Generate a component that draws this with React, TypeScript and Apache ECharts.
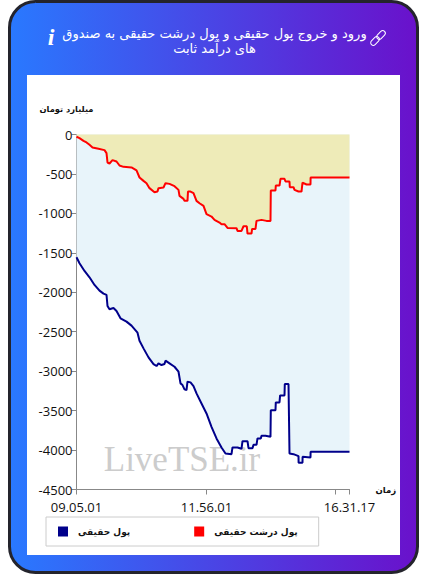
import React, { useEffect, useRef } from "react";
import * as echarts from "echarts";

const titleText = "ورود و خروج پول حقیقی و پول درشت حقیقی به صندوق\nهای درآمد ثابت";
const yAxisName = "میلیارد تومان";
const xAxisName = "زمان";
const realName = "پول حقیقی";
const largeName = "پول درشت حقیقی";
const watermark = "LiveTSE.ir";

const sessionLength = 273;
const xTickPositions = [0, 130, 259, 273];
const xLabelPositions = [0, 130, 273];
const xLabels: Record<number, string> = { 0: "09.05.01", 130: "11.56.01", 273: "16.31.17" };

const largeX = [0, 3, 7, 10, 13, 16, 22, 28, 30, 31, 33, 36, 40, 43, 47, 55, 60, 63, 67, 70, 73, 78, 81, 82, 87, 89, 93, 98, 102, 103, 107, 108, 111, 111.5, 114, 117, 120, 123, 127, 130, 135, 138, 143, 145, 148, 151, 160, 161, 165, 167, 170.3, 171, 175, 175.6, 179, 180, 185, 190, 194, 194.3, 199, 199.3, 203, 204, 208, 209, 213, 213.3, 217, 218, 222, 225, 226, 230, 234, 234.1, 273];
const largeValues = [-29, -46, -80, -101, -131, -165, -181, -198, -236, -355, -368, -325, -342, -393, -410, -418, -456, -545, -588, -617, -680, -731, -723, -680, -672, -617, -626, -655, -702, -778, -816, -841, -841, -723, -723, -744, -841, -871, -905, -1010, -1040, -1082, -1116, -1137, -1137, -1184, -1188, -1222, -1222, -1163, -1163, -1256, -1256, -1197, -1197, -1095, -1082, -1095, -1095, -710, -710, -647, -647, -562, -562, -596, -596, -668, -668, -702, -723, -723, -609, -634, -634, -545, -545];

const realX = [0, 3, 8, 13, 18, 23, 27, 30, 31, 33, 37, 40, 44, 50, 55, 61, 63, 67, 72, 77, 80, 82, 85, 88, 89, 93, 98, 102, 104, 106, 108, 110, 111, 114, 117, 120, 125, 130, 135, 140, 145, 149, 155, 156, 161, 165, 166, 171, 172, 176, 177, 180, 181, 184.3, 185, 189, 194, 194.3, 199, 199.3, 203, 203.6, 208, 208.3, 212, 213, 217, 222, 222.1, 226, 226.1, 234, 234.1, 273];
const realValues = [-1556, -1632, -1730, -1810, -1907, -1979, -2017, -2034, -2174, -2216, -2199, -2237, -2330, -2372, -2423, -2512, -2614, -2711, -2825, -2910, -2935, -2901, -2922, -2910, -2867, -2901, -2944, -3007, -3155, -3176, -3231, -3240, -3134, -3142, -3189, -3282, -3409, -3536, -3705, -3853, -3967, -4044, -4052, -3967, -3967, -3984, -3887, -3887, -3976, -3976, -3934, -3934, -3853, -3853, -3819, -3819, -3832, -3494, -3494, -3396, -3396, -3307, -3307, -3164, -3164, -4044, -4052, -4077, -4162, -4162, -4086, -4094, -4022, -4022];

const pairs = (xs: number[], ys: number[]) => xs.map((x, i) => [x, ys[i]]);

const chainLink = (x: number, y: number) => ({
  type: "rect",
  x,
  y,
  rotation: Math.PI / 4,
  z: 5,
  shape: { x: -5, y: -2.6, width: 10, height: 5.2, r: 2.6 },
  style: { fill: "none", stroke: "#ffffff", lineWidth: 1 },
});

export default function App() {
  const ref = useRef<HTMLDivElement>(null);
  useEffect(() => {
    const chart = echarts.init(ref.current!, undefined, { renderer: "svg" });
    chart.setOption({
      animation: false,
      backgroundColor: "#ffffff",
      textStyle: { fontFamily: "DejaVu Sans" },
      grid: { left: 76.5, top: 134.5, width: sessionLength, height: 355, containLabel: false },
      legend: {
        left: 46,
        top: 517,
        orient: "horizontal",
        icon: "rect",
        itemWidth: 10,
        itemHeight: 10,
        itemGap: 64,
        padding: [9.5, 21, 9.5, 12],
        borderColor: "#cccccc",
        borderWidth: 1,
        data: [realName, largeName],
        textStyle: { fontFamily: "DejaVu Sans", fontWeight: "bold", fontSize: 9, color: "#111111", padding: [0, 0, 0, 5] },
      },
      xAxis: {
        type: "value",
        min: 0,
        max: sessionLength,
        name: xAxisName,
        nameLocation: "end",
        nameGap: 26,
        nameTextStyle: { fontFamily: "DejaVu Sans", fontWeight: "bold", fontSize: 8.5, color: "#111111", padding: [0, 0, 9, 0] },
        splitLine: { show: false },
        axisLine: { show: true, onZero: false, lineStyle: { color: "#888888", width: 1 } },
        axisTick: { show: true, length: 5, customValues: xTickPositions, lineStyle: { color: "#888888" } },
        axisLabel: {
          customValues: xLabelPositions,
          margin: 11,
          fontFamily: "Open Sans",
          fontSize: 13,
          color: "#111111",
          formatter: (v: number) => xLabels[v] ?? "",
        },
      },
      yAxis: {
        type: "value",
        min: -4500,
        max: 0,
        interval: 500,
        name: yAxisName,
        nameLocation: "end",
        nameGap: 22,
        nameTextStyle: { fontFamily: "DejaVu Sans", fontWeight: "bold", fontSize: 8.3, color: "#111111", align: "right", padding: [0, -17, 0, 0] },
        splitLine: { show: false },
        axisLine: { show: true, lineStyle: { color: "#888888", width: 1 } },
        axisTick: { show: true, length: 5, lineStyle: { color: "#888888" } },
        axisLabel: { margin: 4, fontFamily: "Open Sans", fontSize: 13, color: "#111111", formatter: (v: number) => String(v) },
      },
      series: [
        {
          name: realName,
          type: "line",
          showSymbol: false,
          data: pairs(realX, realValues),
          lineStyle: { color: "#00008b", width: 2 },
          itemStyle: { color: "#00008b" },
          areaStyle: { color: "#e8f4fa", opacity: 1, origin: "end" },
          z: 2,
        },
        {
          name: largeName,
          type: "line",
          showSymbol: false,
          data: pairs(largeX, largeValues),
          lineStyle: { color: "#ff0000", width: 2 },
          itemStyle: { color: "#ff0000" },
          areaStyle: { color: "#eeebb8", opacity: 1, origin: "end" },
          z: 3,
        },
      ],
      graphic: [
        {
          type: "rect",
          z: -20,
          shape: { x: 9.5, y: 1.5, width: 408, height: 571, r: 26 },
          style: {
            fill: new echarts.graphic.LinearGradient(0, 0, 1, 0, [
              { offset: 0, color: "#2979ff" },
              { offset: 1, color: "#6a11cb" },
            ]),
            stroke: "#24242c",
            lineWidth: 3,
          },
        },
        { type: "rect", z: -10, shape: { x: 27, y: 75, width: 373, height: 480 }, style: { fill: "#ffffff" } },
        {
          type: "text",
          z: 5,
          x: 214.5,
          y: 41,
          style: {
            text: titleText,
            fill: "#ffffff",
            font: "13px 'DejaVu Sans'",
            lineHeight: 15,
            align: "center",
            verticalAlign: "middle",
          },
        },
        {
          type: "text",
          z: 5,
          x: 51,
          y: 37,
          style: {
            text: "i",
            fill: "#ffffff",
            font: "italic bold 24px 'Liberation Serif'",
            align: "center",
            verticalAlign: "middle",
          },
        },
        chainLink(381, 35),
        chainLink(375, 41),
        {
          type: "text",
          z: 1,
          x: 182,
          y: 459,
          style: {
            text: watermark,
            fill: "#cccccc",
            font: "35px 'Liberation Serif'",
            align: "center",
            verticalAlign: "middle",
          },
        },
      ],
    });
    return () => chart.dispose();
  }, []);
  return <div ref={ref} style={{ position: "fixed", left: 0, top: 0, width: 427, height: 574 }} />;
}
